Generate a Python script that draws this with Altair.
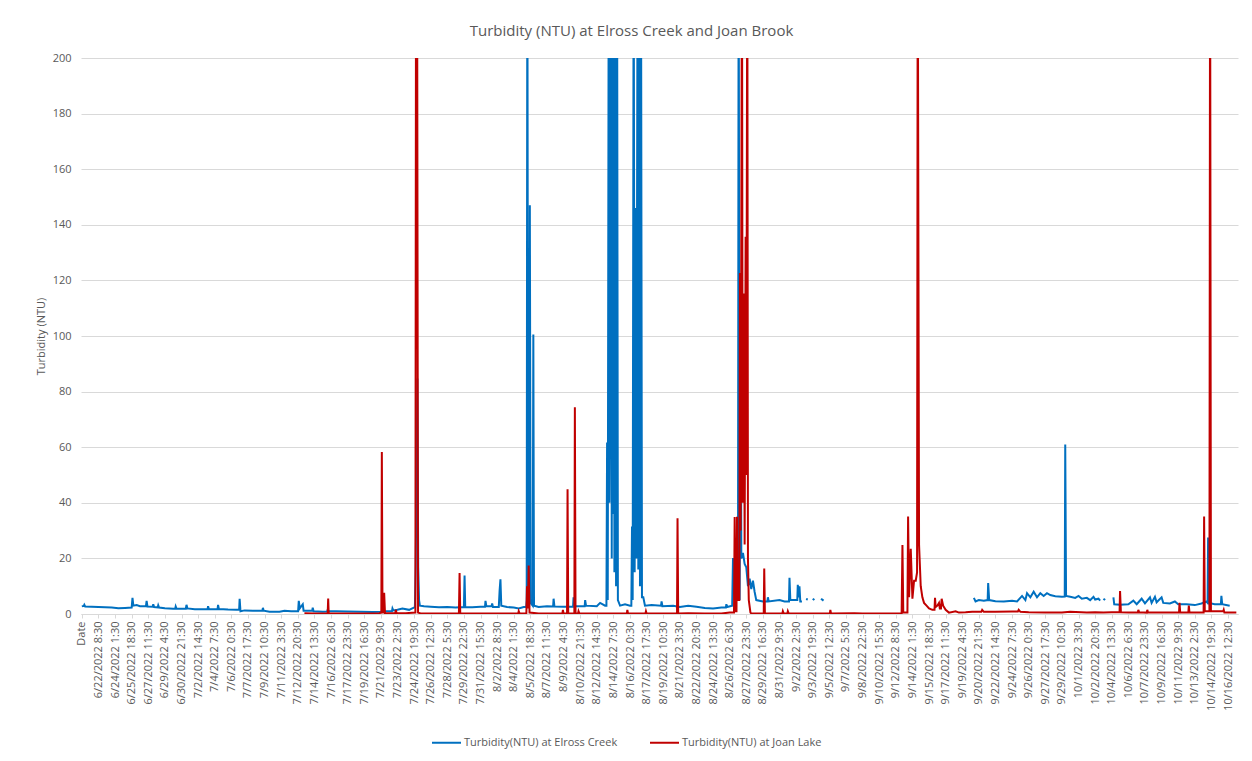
import json
import altair as alt
import pandas as pd

TITLE = "Turbidity (NTU) at Elross Creek and Joan Brook"
SERIES = ["Turbidity(NTU) at Elross Creek", "Turbidity(NTU) at Joan Lake"]
COLORS = ["#0070C0", "#C00000"]
Y_TITLE = "Turbidity (NTU)"
Y_TICKS = [0, 20, 40, 60, 80, 100, 120, 140, 160, 180, 200]

X_LABELS = [
    "Date", "6/22/2022 8:30", "6/24/2022 1:30", "6/25/2022 18:30", "6/27/2022 11:30",
    "6/29/2022 4:30", "6/30/2022 21:30", "7/2/2022 14:30", "7/4/2022 7:30", "7/6/2022 0:30",
    "7/7/2022 17:30", "7/9/2022 10:30", "7/11/2022 3:30", "7/12/2022 20:30", "7/14/2022 13:30",
    "7/16/2022 6:30", "7/17/2022 23:30", "7/19/2022 16:30", "7/21/2022 9:30", "7/23/2022 2:30",
    "7/24/2022 19:30", "7/26/2022 12:30", "7/28/2022 5:30", "7/29/2022 22:30", "7/31/2022 15:30",
    "8/2/2022 8:30", "8/4/2022 1:30", "8/5/2022 18:30", "8/7/2022 11:30", "8/9/2022 4:30",
    "8/10/2022 21:30", "8/12/2022 14:30", "8/14/2022 7:30", "8/16/2022 0:30", "8/17/2022 17:30",
    "8/19/2022 10:30", "8/21/2022 3:30", "8/22/2022 20:30", "8/24/2022 13:30", "8/26/2022 6:30",
    "8/27/2022 23:30", "8/29/2022 16:30", "8/31/2022 9:30", "9/2/2022 2:30", "9/3/2022 19:30",
    "9/5/2022 12:30", "9/7/2022 5:30", "9/8/2022 22:30", "9/10/2022 15:30", "9/12/2022 8:30",
    "9/14/2022 1:30", "9/15/2022 18:30", "9/17/2022 11:30", "9/19/2022 4:30", "9/20/2022 21:30",
    "9/22/2022 14:30", "9/24/2022 7:30", "9/26/2022 0:30", "9/27/2022 17:30", "9/29/2022 10:30",
    "10/1/2022 3:30", "10/2/2022 20:30", "10/4/2022 13:30", "10/6/2022 6:30", "10/7/2022 23:30",
    "10/9/2022 16:30", "10/11/2022 9:30", "10/13/2022 2:30", "10/14/2022 19:30", "10/16/2022 12:30",
]

# (position along the category axis in label-spacing units, turbidity NTU); None = gap
ELROSS = [
    (0.0, 2.8), (0.12, 2.9), (0.15, 3.3), (0.2, 2.7), (0.6, 2.6), (1.0, 2.5), (1.4, 2.4),
    (1.8, 2.3), (2.2, 2.1), (2.6, 2.2), (3.0, 2.3), (3.05, 5.8), (3.1, 3.0), (3.3, 3.2),
    (3.5, 2.8), (3.86, 2.8), (3.9, 4.7), (3.95, 2.7), (4.27, 2.6), (4.3, 3.5), (4.35, 2.5),
    (4.57, 2.4), (4.6, 3.1), (4.65, 2.3), (5.0, 2.1), (5.5, 1.9), (5.62, 1.9), (5.65, 2.7),
    (5.7, 1.9), (6.26, 1.9), (6.3, 3.3), (6.36, 2.0), (6.8, 1.7), (7.2, 1.7), (7.57, 1.7),
    (7.6, 2.8), (7.65, 1.7), (8.17, 1.7), (8.2, 3.3), (8.25, 1.8), (8.8, 1.6), (9.3, 1.5),
    (9.47, 1.5), (9.5, 5.5), (9.55, 1.0), (9.8, 1.3), (10.3, 1.2), (10.87, 1.2), (10.9, 2.2),
    (10.95, 1.2), (11.3, 0.8), (11.9, 0.8), (12.2, 1.2), (12.6, 1.0), (13.02, 1.0), (13.06, 4.7),
    (13.12, 2.0), (13.3, 3.5), (13.35, 1.2), (13.87, 1.2), (13.9, 2.3), (13.95, 1.0), (14.5, 0.8),
    (14.77, 0.9), (14.8, 1.5), (14.85, 1.0), (15.3, 1.0), (16.0, 0.9), (16.8, 0.8), (17.5, 0.7),
    (18.0, 0.8), (18.3, 1.0), (18.67, 1.0), (18.7, 2.0), (18.75, 1.3), (19.0, 1.5), (19.3, 2.0),
    (19.7, 1.5), (20.05, 2.5), (20.1, 17.0), (20.2, 84.7), (20.25, 16.8), (20.3, 5.0),
    (20.35, 3.0), (20.6, 2.8), (21.0, 2.6), (21.5, 2.4), (22.0, 2.5), (22.5, 2.3), (23.0, 2.5),
    (23.04, 13.8), (23.08, 2.5), (23.5, 2.4), (24.0, 2.6), (24.27, 2.6), (24.3, 4.7),
    (24.35, 2.8), (24.67, 2.8), (24.7, 3.8), (24.75, 2.5), (25.1, 2.5), (25.15, 8.4),
    (25.2, 12.5), (25.25, 3.0), (25.6, 2.5), (26.0, 2.3), (26.3, 2.0), (26.6, 2.5), (26.75, 2.5),
    (26.78, 5.0), (26.82, 250), (26.87, 3.0), (26.93, 3.0), (26.97, 147), (27.02, 4.0),
    (27.14, 3.0), (27.18, 100.5), (27.22, 3.0), (27.5, 2.5), (28.0, 2.8), (28.37, 2.7),
    (28.4, 5.5), (28.45, 2.7), (29.0, 2.6), (29.57, 2.6), (29.6, 6.0), (29.65, 2.8),
    (30.27, 2.8), (30.3, 5.0), (30.35, 3.0), (31.0, 2.8), (31.2, 4.0), (31.5, 3.0), (31.58, 3.0),
    (31.62, 61.7), (31.66, 5.0), (31.72, 250), (31.76, 40), (31.82, 117), (31.86, 250),
    (31.9, 20), (31.94, 250), (31.98, 36), (32.02, 250), (32.06, 15), (32.12, 250), (32.16, 10),
    (32.22, 250), (32.27, 5.0), (32.4, 3.0), (32.7, 3.5), (33.0, 3.0), (33.08, 3.0),
    (33.12, 31.5), (33.16, 5.0), (33.22, 250), (33.28, 15), (33.34, 146), (33.38, 20),
    (33.46, 250), (33.5, 16), (33.56, 250), (33.6, 10), (33.66, 250), (33.72, 6.0), (33.8, 6.0),
    (33.9, 3.0), (34.3, 3.2), (34.87, 3.0), (34.9, 4.5), (34.95, 2.8), (35.6, 3.0), (36.0, 2.5),
    (36.5, 3.0), (37.0, 2.6), (37.5, 2.2), (38.0, 2.0), (38.5, 2.3), (38.77, 2.3), (38.8, 3.5),
    (38.85, 2.5), (39.15, 3.0), (39.2, 20.1), (39.3, 5.0), (39.5, 10), (39.54, 250), (39.6, 5.0),
    (39.66, 103.9), (39.7, 20), (39.8, 22), (39.9, 18), (40.0, 16.8), (40.1, 10), (40.2, 12.7),
    (40.3, 9.0), (40.4, 12), (40.5, 8.0), (40.6, 5.0), (41.0, 4.5), (41.27, 4.5), (41.3, 6.0),
    (41.35, 4.5), (42.0, 5.0), (42.3, 4.5), (42.57, 4.5), (42.6, 13.0), (42.65, 5.0),
    (43.0, 5.0), (43.07, 5.0), (43.1, 10.5), (43.15, 6.0), (43.2, 10), (43.25, 4.5),
    (43.35, 4.5), None, (43.6, 5.4), (43.7, 5.2), None, (44.0, 5.5), (44.1, 5.0), None,
    (44.5, 5.5), (44.65, 4.8), None,
    (53.7, 5.8), (53.8, 4.5), (54.0, 5.0), (54.3, 4.8), (54.53, 5.0), (54.56, 11.1),
    (54.62, 5.0), (55.0, 4.6), (55.5, 4.5), (56.0, 4.8), (56.3, 4.5), (56.6, 6.5), (56.8, 5.0),
    (56.9, 7.5), (57.1, 6.0), (57.3, 8.0), (57.5, 6.0), (57.7, 7.5), (57.9, 6.5), (58.1, 7.5),
    (58.3, 6.8), (58.6, 6.4), (59.0, 6.2), (59.17, 6.3), (59.2, 61), (59.25, 6.5), (59.5, 6.2),
    (59.8, 5.8), (60.0, 6.5), (60.2, 5.5), (60.5, 5.8), (60.7, 5.0), (60.9, 6.2), (61.0, 5.2),
    (61.2, 5.5), (61.3, 4.8), None, (61.5, 5.5), (61.6, 5.0), None, (62.1, 6.0), (62.15, 3.5),
    (62.5, 3.3), (63.0, 3.5), (63.3, 4.8), (63.5, 3.5), (63.8, 5.5), (64.0, 3.8), (64.3, 6.0),
    (64.4, 4.0), (64.6, 6.2), (64.7, 4.2), (65.0, 6.0), (65.1, 4.0), (65.5, 3.8), (65.8, 4.5),
    (66.0, 3.5), (66.5, 3.5), (67.0, 3.2), (67.4, 3.8), (67.7, 4.5), (67.77, 4.0), (67.8, 27.5),
    (67.85, 4.0), (68.2, 3.5), (68.57, 3.5), (68.6, 6.5), (68.65, 3.5), (69.1, 3.0),
]

JOAN = [
    (13.4, 0.3), (14.0, 0.2), (14.8, 0.3), (14.83, 5.6), (14.86, 0.3), (15.5, 0.2), (16.5, 0.2),
    (17.5, 0.2), (17.9, 0.3), (18.03, 0.5), (18.06, 58.3), (18.1, 0.5), (18.17, 0.5),
    (18.2, 7.6), (18.25, 0.3), (18.87, 0.3), (18.9, 1.5), (18.95, 0.3), (19.5, 0.3),
    (20.08, 0.5), (20.12, 250), (20.18, 250), (20.24, 0.5), (20.4, 0.2), (21.5, 0.2),
    (22.7, 0.2), (22.74, 14.7), (22.78, 0.2), (23.5, 0.2), (24.5, 0.2), (25.5, 0.2),
    (26.27, 0.2), (26.3, 1.0), (26.35, 0.2), (26.76, 0.2), (26.8, 10), (26.85, 2.0),
    (26.9, 17.4), (26.95, 0.5), (27.5, 0.2), (28.93, 0.2), (28.96, 1.5), (29.0, 0.2),
    (29.21, 0.2), (29.24, 44.9), (29.28, 0.2), (29.65, 0.2), (29.68, 74.4), (29.72, 0.2),
    (29.87, 0.2), (29.9, 1.0), (29.95, 0.2), (31.0, 0.2), (32.81, 0.2), (32.84, 1.5),
    (32.88, 0.2), (33.93, 0.2), (33.96, 1.0), (34.0, 0.2), (35.0, 0.2), (35.83, 0.2),
    (35.86, 34.4), (35.9, 0.2), (36.5, 0.3), (37.5, 0.2), (38.5, 0.2), (39.0, 0.5),
    (39.26, 0.5), (39.3, 34.9), (39.35, 1.0), (39.41, 1.0), (39.44, 35), (39.48, 5.0),
    (39.58, 5.0), (39.62, 122.7), (39.66, 30), (39.74, 250), (39.78, 40), (39.86, 115.3),
    (39.9, 25), (39.96, 135.7), (40.0, 50), (40.06, 250), (40.1, 20), (40.15, 5.0),
    (40.25, 0.5), (40.3, 0.2), (41.05, 0.2), (41.08, 16.4), (41.12, 0.2), (42.17, 0.2),
    (42.2, 1.0), (42.25, 0.2), (42.47, 0.2), (42.5, 1.0), (42.55, 0.2), (45.03, 0.2),
    (45.06, 1.5), (45.1, 0.2), (46.5, 0.3), (47.0, 0.2), (49.35, 0.2), (49.4, 24.8),
    (49.45, 0.5), (49.7, 0.5), (49.74, 35.1), (49.8, 6.0), (49.9, 23.5), (50.0, 5.5),
    (50.1, 12), (50.2, 12), (50.28, 15), (50.32, 250), (50.4, 25), (50.5, 10), (50.6, 6.0),
    (50.7, 4.0), (50.85, 3.0), (51.0, 2.0), (51.2, 1.5), (51.33, 1.5), (51.36, 5.8),
    (51.4, 2.5), (51.5, 3.0), (51.6, 4.0), (51.65, 2.0), (51.72, 2.0), (51.76, 5.5),
    (51.85, 3.0), (52.0, 1.5), (52.2, 0.5), (52.6, 1.0), (52.8, 0.5), (53.2, 0.6), (53.6, 0.8),
    (54.15, 0.8), (54.2, 1.5), (54.3, 0.8), (55.0, 0.8), (56.0, 0.9), (56.35, 0.9),
    (56.4, 1.5), (56.5, 0.8), (57.0, 0.6), (58.0, 0.5), (59.0, 0.5), (59.5, 0.8), (60.5, 0.5),
    (61.0, 0.6), (61.5, 0.5), (62.0, 0.6), (62.47, 0.6), (62.5, 8.3), (62.55, 0.6), (63.0, 0.5),
    (63.57, 0.5), (63.6, 1.5), (63.65, 0.6), (64.11, 0.5), (64.14, 1.5), (64.18, 0.5),
    (65.0, 0.5), (66.05, 0.5), (66.08, 4.0), (66.12, 0.5), (66.61, 0.5), (66.64, 3.0),
    (66.68, 0.5), (67.2, 0.5), (67.53, 0.5), (67.56, 35.1), (67.6, 1.0), (67.88, 1.0),
    (67.92, 250), (67.97, 1.0), (68.71, 1.0), (68.74, 1.5), (68.78, 0.5), (69.5, 0.5),
]

rows = []
for name, pts in [(SERIES[0], ELROSS), (SERIES[1], JOAN)]:
    seg = 0
    for p in pts:
        if p is None:
            seg += 1
            continue
        rows.append({"t": p[0], "v": p[1], "series": name, "seg": f"{name}-{seg}"})
df = pd.DataFrame(rows)

FONT = "Open Sans"
GREY = "#595959"
label_expr = json.dumps(X_LABELS) + "[round(datum.value)]"

chart = alt.Chart(df).mark_line(strokeWidth=2, clip=True).encode(
    x=alt.X(
        "t:Q",
        scale=alt.Scale(domain=[-0.05, 69.6], nice=False, zero=False),
        axis=alt.Axis(
            values=list(range(len(X_LABELS))),
            labelExpr=label_expr,
            labelAngle=270,
            labelOverlap=False,
            labelFlush=False,
            labelBound=False,
            labelFont=FONT,
            labelFontSize=11,
            labelColor=GREY,
            labelPadding=3,
            grid=False,
            domainColor="#D9D9D9",
            tickColor="#D9D9D9",
            tickSize=4,
            title=None,
        ),
    ),
    y=alt.Y(
        "v:Q",
        scale=alt.Scale(domain=[0, 200], nice=False),
        axis=alt.Axis(
            values=Y_TICKS,
            title=Y_TITLE,
            titleFont=FONT,
            titleFontSize=11,
            titleFontWeight="normal",
            titleColor=GREY,
            titlePadding=6,
            labelFont=FONT,
            labelFontSize=11,
            labelColor=GREY,
            labelPadding=10,
            domain=False,
            ticks=False,
            gridColor="#D9D9D9",
        ),
    ),
    color=alt.Color(
        "series:N",
        scale=alt.Scale(domain=SERIES, range=COLORS),
        legend=alt.Legend(
            orient="none",
            legendX=350,
            legendY=669,
            direction="horizontal",
            title=None,
            symbolType="stroke",
            symbolSize=841,
            symbolStrokeWidth=2,
            labelFont=FONT,
            labelFontSize=11,
            labelColor=GREY,
            labelOffset=2,
            columnPadding=28,
            padding=0,
        ),
    ),
    detail="seg:N",
).properties(
    width=1157,
    height=556,
    padding={"left": 73, "top": 50, "right": 6, "bottom": 145},
    autosize=alt.AutoSizeParams(type="none"),
    title=alt.TitleParams(
        TITLE, font=FONT, fontSize=15, fontWeight="normal", color=GREY, offset=13, dx=-28
    ),
).configure_view(stroke=None)

chart.save("out.html", embed_options={"renderer": "svg", "actions": False})
